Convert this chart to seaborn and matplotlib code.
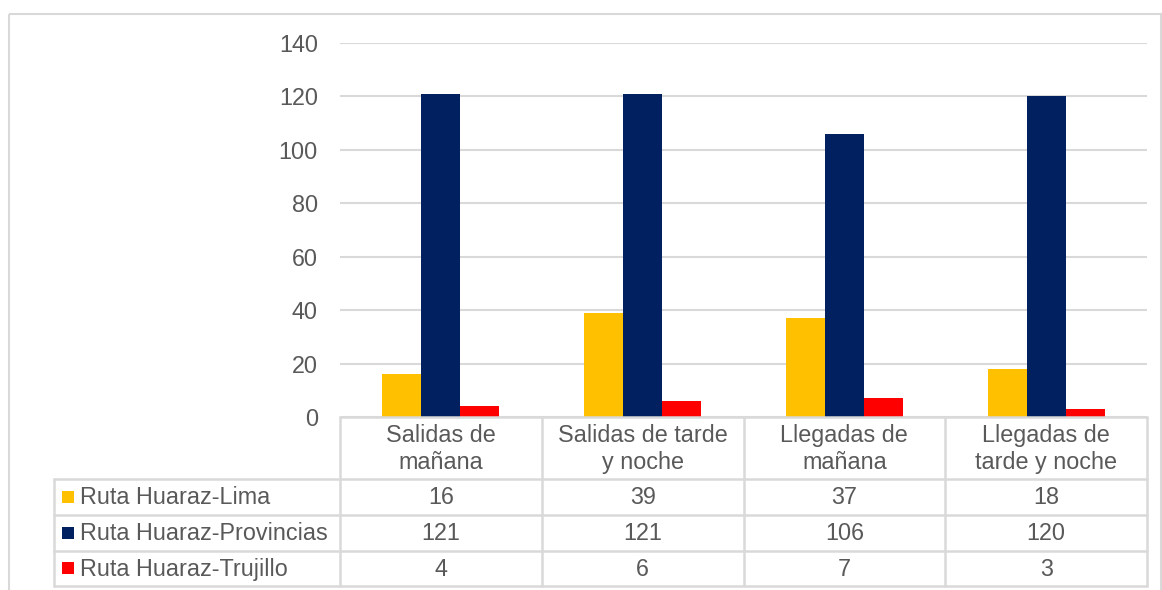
import matplotlib
matplotlib.use("Agg")
import matplotlib.pyplot as plt
from matplotlib.patches import Rectangle
import seaborn as sns
import pandas as pd

categories = ["Salidas de\nmañana", "Salidas de tarde\ny noche",
              "Llegadas de\nmañana", "Llegadas de\ntarde y noche"]
series = ["Ruta Huaraz-Lima", "Ruta Huaraz-Provincias", "Ruta Huaraz-Trujillo"]
lima = [16, 39, 37, 18]
provincias = [121, 121, 106, 120]
trujillo = [4, 6, 7, 3]
y_ticks = [0, 20, 40, 60, 80, 100, 120, 140]
colors = ["#FFC000", "#002060", "#FF0000"]

values = [lima, provincias, trujillo]
df = pd.DataFrame({
    "categoria": [c for _ in series for c in categories],
    "ruta": [s for s in series for _ in categories],
    "valor": [v for vals in values for v in vals],
})

sns.set_theme(style="white")
plt.rcParams["font.family"] = ["Liberation Sans", "DejaVu Sans"]
TXT = "#595959"
GRID = "#D9D9D9"
FS = 16.8

W, H = 1162, 590
fig = plt.figure(figsize=(W / 100, H / 100), dpi=100)

# plot area in pixel units
x0, x1, y_top, y_zero = 340, 1147, 43, 417
ax = fig.add_axes([x0 / W, 1 - y_zero / H, (x1 - x0) / W, (y_zero - y_top) / H])
sns.barplot(data=df, x="categoria", y="valor", hue="ruta", order=categories,
            hue_order=series, palette=dict(zip(series, colors)), width=0.58,
            saturation=1, legend=False, ax=ax, linewidth=0)
ax.set_xlim(-0.5, len(categories) - 0.5)
ax.set_ylim(0, 140)
ax.set_yticks(y_ticks)
ax.set_yticklabels([str(t) for t in y_ticks], fontsize=FS, color=TXT)
ax.tick_params(axis="y", length=0, pad=16)
ax.set_xticks([])
ax.set_xlabel("")
ax.set_ylabel("")
for s in ax.spines.values():
    s.set_visible(False)
ax.grid(axis="y", color=GRID, linewidth=1.5)
ax.set_axisbelow(True)

# overlay in pixel coordinates for the data table and frame
ov = fig.add_axes([0, 0, 1, 1], zorder=3)
ov.set_xlim(0, W)
ov.set_ylim(H, 0)
ov.axis("off")
ov.patch.set_alpha(0)

ov.add_patch(Rectangle((8.5, 13.5), 1161 - 8.5, 600, fill=False,
                       edgecolor=GRID, linewidth=1.5))

col_w = (x1 - x0) / len(categories)
col_edges = [x0 + i * col_w for i in range(len(categories) + 1)]
row_edges = [479, 515, 550.7, 586]
lw = 1.8
# header row lines
ov.plot([x0, x1], [y_zero, y_zero], color=GRID, lw=lw)
for r in row_edges:
    ov.plot([54, x1], [r, r], color=GRID, lw=lw)
for cx in col_edges:
    ov.plot([cx, cx], [y_zero, row_edges[-1]], color=GRID, lw=lw)
ov.plot([54, 54], [row_edges[0], row_edges[-1]], color=GRID, lw=lw)

for i, cat in enumerate(categories):
    cxm = (col_edges[i] + col_edges[i + 1]) / 2
    ov.text(cxm, (y_zero + row_edges[0]) / 2 + 1, cat, ha="center", va="center",
            fontsize=FS, color=TXT, linespacing=1.22)

for j, (name, vals, col) in enumerate(zip(series, values, colors)):
    ym = (row_edges[j] + row_edges[j + 1]) / 2
    ov.add_patch(Rectangle((62, ym - 6), 12, 12, facecolor=col, edgecolor="none"))
    ov.text(80, ym + 1, name, ha="left", va="center", fontsize=FS, color=TXT)
    for i, v in enumerate(vals):
        cxm = (col_edges[i] + col_edges[i + 1]) / 2
        ov.text(cxm, ym + 1, str(v), ha="center", va="center", fontsize=FS, color=TXT)

fig.savefig("out.png", dpi=100)
